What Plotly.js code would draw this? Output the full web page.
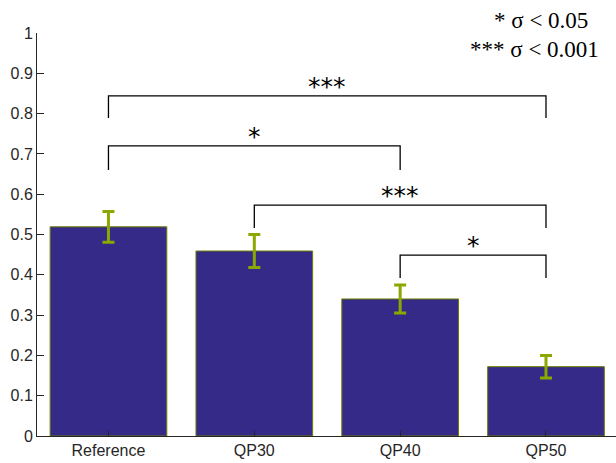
<!DOCTYPE html>
<html><head><meta charset="utf-8">
<script src="https://cdn.plot.ly/plotly-3.0.1.min.js"></script>
<style>body{margin:0;padding:0;background:#fff;overflow:hidden}#chart{width:616px;height:463px}</style>
</head><body><div id="chart"></div>
<script>
const categories = ['Reference', 'QP30', 'QP40', 'QP50'];
const means = [0.519, 0.459, 0.340, 0.172];
const errors = [0.038, 0.041, 0.035, 0.028];
const bracketFrom = [0, 0, 1, 2];
const bracketTo = [3, 2, 3, 3];
const bracketTop = [0.844, 0.720, 0.573, 0.449];
const bracketBottom = [0.789, 0.660, 0.516, 0.392];
const bracketLabels = ['***', '*', '***', '*'];
const legendLines = ['* σ < 0.05', '*** σ < 0.001'];
const yTicks = [0, 0.1, 0.2, 0.3, 0.4, 0.5, 0.6, 0.7, 0.8, 0.9, 1];

const xIdx = categories.map((c, i) => i);
const traces = [{
  type: 'bar', x: xIdx, y: means, width: 0.8,
  marker: {color: '#352a87', line: {color: '#6b7d00', width: 1}},
  error_y: {type: 'data', array: errors, visible: true, color: '#8aa800', thickness: 3, width: 6},
  hoverinfo: 'none'
}];
const annotations = [];
for (let i = 0; i < bracketFrom.length; i++) {
  const a = bracketFrom[i], b = bracketTo[i];
  traces.push({
    type: 'scatter', mode: 'lines',
    x: [a, a, b, b], y: [bracketBottom[i], bracketTop[i], bracketTop[i], bracketBottom[i]],
    line: {color: '#000', width: 1.3}, hoverinfo: 'none', cliponaxis: false
  });
  annotations.push({
    x: (a + b) / 2, y: bracketTop[i], xref: 'x', yref: 'y', text: bracketLabels[i],
    showarrow: false, yanchor: 'bottom', yshift: -7,
    font: {family: 'DejaVu Sans, sans-serif', size: 25, color: '#000'}
  });
}
const W = 616, H = 463, ml = 37, mr = 0, mt = 33, mb = 27;
const legendRight = [590, 601];
const legendY = [21, 50];
legendLines.forEach((t, i) => {
  annotations.push({
    x: (legendRight[i] - ml) / (W - ml - mr), y: 1 - (legendY[i] - mt) / (H - mt - mb),
    xref: 'paper', yref: 'paper', text: t, showarrow: false,
    xanchor: 'right', yanchor: 'middle',
    font: {family: 'Liberation Serif, Times New Roman, serif', size: 23, color: '#000'}
  });
});
const tickFont = {family: 'Liberation Sans, Arial, sans-serif', size: 16, color: '#262626'};
const layout = {
  width: W, height: H,
  margin: {l: ml, r: mr, t: mt, b: mb},
  paper_bgcolor: '#fff', plot_bgcolor: '#fff',
  showlegend: false,
  font: tickFont,
  xaxis: {
    range: [-0.49, 3.48], tickvals: xIdx, ticktext: categories, tickfont: tickFont,
    showline: true, linecolor: '#262626', linewidth: 1, ticks: 'inside', ticklen: 5, tickcolor: '#262626',
    showgrid: false, zeroline: false, fixedrange: true, ticklabelstandoff: 0
  },
  yaxis: {
    range: [0, 1], tickvals: yTicks, ticktext: yTicks.map(v => String(v)), tickfont: tickFont,
    showline: true, linecolor: '#262626', linewidth: 1, ticks: 'inside', ticklen: 7, tickcolor: '#262626',
    showgrid: false, zeroline: false, fixedrange: true
  },
  annotations: annotations
};
Plotly.newPlot('chart', traces, layout, {displayModeBar: false, staticPlot: true});
</script></body></html>
